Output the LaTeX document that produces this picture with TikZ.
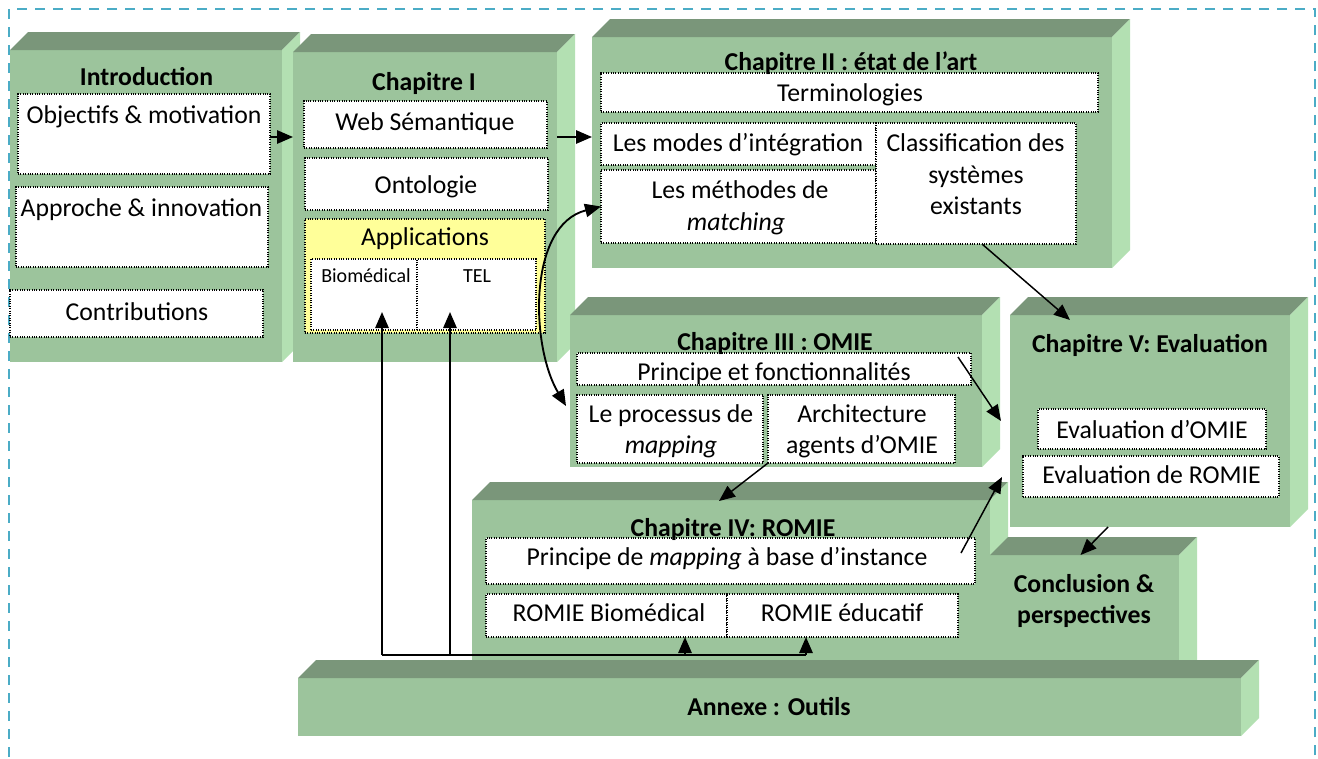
\documentclass[tikz,border=0pt]{standalone}
\usepackage{fontspec}
\setmainfont{Carlito}
\usetikzlibrary{calc,fit,arrows.meta}
\definecolor{frontc}{RGB}{156,196,156}
\definecolor{topc}{RGB}{122,150,122}
\definecolor{sidec}{RGB}{179,224,178}
\definecolor{borderc}{RGB}{75,172,198}
\definecolor{appyel}{RGB}{255,255,153}

\newcommand\cuboid[5]{%
  \node[frontface, fit={(#2,#3) (#4,#5)}] (#1) {};
  \fill[topc] (#1.north west) -- ++(18,-18) -- ($(#1.north east)+(18,-18)$) -- (#1.north east) -- cycle;
  \fill[sidec] (#1.north east) -- ++(18,-18) -- ($(#1.south east)+(18,-18)$) -- (#1.south east) -- cycle;
}
\newcommand\ibox[6][white]{%
  \node[ibox, fill=#1, fit={(#3,#4) (#5,#6)}] (#2) {};
}

\begin{document}
\begin{tikzpicture}[x=0.75pt,y=-0.75pt,
  frontface/.style={fill=frontc, draw=none, inner sep=0pt, outer sep=0pt},
  ibox/.style={draw=black, densely dotted, line width=0.8pt, inner sep=0pt, outer sep=0pt},
  txt/.style={anchor=base, inner sep=0pt, font=\fontsize{19.3}{23.5}\selectfont},
  ttl/.style={anchor=base, inner sep=0pt, font=\bfseries\fontsize{19.3}{23.5}\selectfont},
  smalltxt/.style={anchor=base, inner sep=0pt, font=\fontsize{15}{18}\selectfont},
  arr/.style={line width=1.4pt, -{Triangle[length=12pt,width=10pt]}},
  thinarr/.style={line width=1.1pt, -{Triangle[length=12pt,width=10pt]}},
  dblarr/.style={line width=1.4pt, {Triangle[length=12pt,width=10pt]}-{Triangle[length=12pt,width=10pt]}},
  busline/.style={line width=1.4pt}
]
\useasboundingbox (0,0) rectangle (1318,758);
\clip (0,0) rectangle (1318,758);
\fill[white] (0,0) rectangle (1318,758);
\draw[borderc, line width=1.6pt, dash pattern=on 7.5pt off 6pt] (9,9) rectangle (1315,800);

% Introduction
\cuboid{intro}{10}{50}{282}{362}
\ibox{obj}{18}{94}{270}{174}
\ibox{appr}{16}{187}{268}{267}
\ibox{contrib}{10}{290}{263}{337}
\node[ttl] (tintro) at (146.5,85) {Introduction};
\node[txt] (tobj) at (144,123) {Objectifs \& motivation};
\node[txt] (tappr) at (141.5,216) {Approche \& innovation};
\node[txt] (tcontrib) at (137,320) {Contributions};

% Chapitre I
\cuboid{ch1}{293}{52}{557}{362}
\ibox{ws}{304}{101}{547}{148}
\ibox{onto}{305}{158}{548}{210}
\ibox[appyel]{appl}{305}{219}{545}{333}
\ibox{bio}{311}{259}{417}{330}
\ibox{tel}{417}{259}{536}{330}
\node[ttl] (tch1) at (424,90) {Chapitre I};
\node[txt] (tws) at (425,130) {Web Sémantique};
\node[txt] (tonto) at (426,193) {Ontologie};
\node[txt] (tappl) at (425,245) {Applications};
\node[smalltxt] (tbio) at (366,282) {Biomédical};
\node[smalltxt] (ttel) at (477,282) {TEL};

% Chapitre II
\cuboid{ch2}{592}{37}{1112}{268}
\ibox{term}{601}{73}{1098}{112}
\ibox{modes}{601}{123}{876}{165}
\ibox{meth}{601}{170}{876}{243}
\ibox{cls}{876}{123}{1076}{244}
\node[ttl] (tch2) at (851,70) {Chapitre II : état de l’art};
\node[txt] (tterm) at (850,101) {Terminologies};
\node[txt] (tmodes) at (738,151) {Les modes d’intégration};
\node[txt] (tmeth1) at (740,198) {Les méthodes de};
\node[txt] (tmeth2) at (736,230) {\itshape matching};
\node[txt] (tcls1) at (975.5,151) {Classification des};
\node[txt] (tcls2) at (976,183) {systèmes};
\node[txt] (tcls3) at (976,214) {existants};

% Chapitre III
\cuboid{ch3}{570}{315}{982}{467}
\ibox{pf}{577}{353}{971}{385}
\ibox{proc}{577}{395}{763}{463}
\ibox{arch}{768}{395}{955}{463}
\node[ttl] (tch3) at (775,350) {Chapitre III : OMIE};
\node[txt] (tpf) at (774,380) {Principe et fonctionnalités};
\node[txt] (tproc1) at (671,422) {Le processus de};
\node[txt] (tproc2) at (671,453) {\itshape mapping};
\node[txt] (tarch1) at (862,422) {Architecture};
\node[txt] (tarch2) at (862,453) {agents d’OMIE};

% Chapitre V
\cuboid{ch5}{1010}{315}{1290}{527}
\ibox{evo}{1038}{409}{1266}{449}
\ibox{evr}{1023}{456}{1279}{497}
\node[ttl] (tch5) at (1150,352) {Chapitre V: Evaluation};
\node[txt] (tevo) at (1152,438) {Evaluation d’OMIE};
\node[txt] (tevr) at (1151.5,483) {Evaluation de ROMIE};

% Chapitre IV
\cuboid{ch4}{472}{500}{990}{700}
\ibox{pm}{486}{538}{975}{584}
\ibox{rbio}{486}{594}{727}{637}
\ibox{redu}{727}{594}{958}{637}
\node[ttl] (tch4) at (733,536) {Chapitre IV: ROMIE};
\node[txt] (tpm) at (727,565) {Principe de \textit{mapping} à base d’instance};
\node[txt] (trbio) at (609,621) {ROMIE Biomédical};
\node[txt] (tredu) at (842,621) {ROMIE éducatif};

% Conclusion
\cuboid{concl}{990}{555}{1179}{700}
\node[ttl] (tconcl1) at (1084,592) {Conclusion \&};
\node[ttl] (tconcl2) at (1084,623) {perspectives};

% Annexe
\cuboid{annexe}{298}{678}{1241}{736}
\node[ttl] (tannexe) at (769,715) {Annexe : Outils};

% connectors
\draw[arr] (obj.east |- 0,137) -- (ch1.west |- 0,137);
\draw[arr] (ch1.east |- 0,137) -- (ch2.west |- 0,137);
\coordinate (procend) at ($(proc.north west)+(-11,11)$);
\draw[dblarr] (procend) .. controls (530,345) and (528,225) .. (meth.west);
\coordinate (ch5top) at ($(ch5.north west)+(60,5)$);
\draw[thinarr] ($(cls.south)+(6,0)$) -- (ch5top);
\coordinate (ch5left) at ($(ch5.west)+(-9,0)$);
\draw[thinarr] ($(pf.north east)+(-13,4)$) -- (ch5left);
\coordinate (ch4top) at ($(ch4.north)+(-12,1)$);
\draw[thinarr] (arch.south west) -- (ch4top);
\coordinate (ch5low) at ($(ch5.south west)+(-8,-50)$);
\draw[thinarr] ($(pm.north east)+(-14,15)$) -- (ch5low);
\draw[thinarr] ($(ch5.south west)+(98,0)$) -- ($(concl.north)+(-4,0)$);

% bus from Annexe
\coordinate (busL) at (382,655);
\coordinate (busT) at (450,655);
\coordinate (busB) at (685,655);
\coordinate (busR) at (806,655);
\coordinate (tipBio) at (382,312);
\coordinate (tipTel) at (450,312);
\draw[busline] (busL) -- (busR);
\draw[arr] (busL) -- (tipBio);
\draw[arr] (busT) -- (tipTel);
\draw[arr] (busB) -- (busB |- rbio.south);
\draw[arr] (busR) -- (busR |- redu.south);
\end{tikzpicture}
\end{document}
